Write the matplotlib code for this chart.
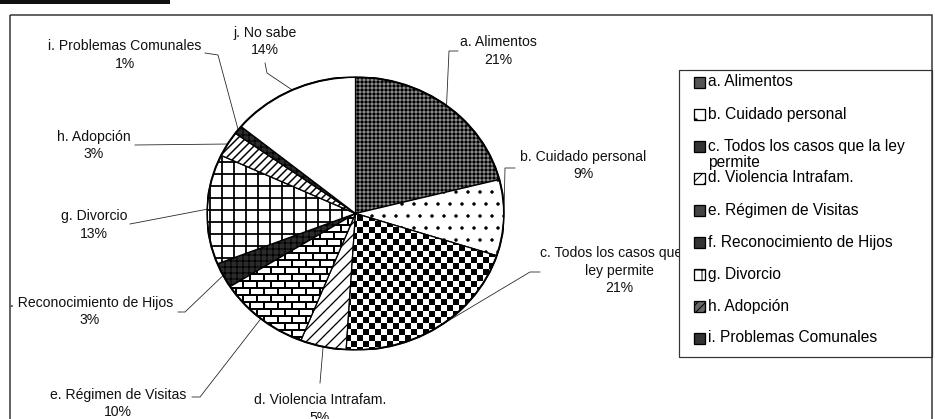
import numpy as np
import matplotlib
matplotlib.use("Agg")
import matplotlib.pyplot as plt
from matplotlib.patches import Rectangle, Ellipse

plt.rcParams["font.family"] = ["Liberation Sans", "DejaVu Sans"]
plt.rcParams["hatch.linewidth"] = 1.0

# Data
categories = [
    "a. Alimentos", "b. Cuidado personal", "c. Todos los casos que la ley permite",
    "d. Violencia Intrafam.", "e. Régimen de Visitas", "f. Reconocimiento de Hijos",
    "g. Divorcio", "h. Adopción", "i. Problemas Comunales", "j. No sabe",
]
values = [21, 9, 21, 5, 10, 3, 13, 3, 1, 14]
legend_count = 9  # the legend in the scan only shows a..i

pie_names = {2: "c. Todos los casos que la\nley permite"}
legend_names = {2: "c. Todos los casos que la ley\npermite"}

# Styles per wedge
faces = ["#8c8c8c", "white", "white", "white", "white", "#2b2b2b", "white", "white", "#2b2b2b", "white"]
hatches = ["+++", ".", None, "//", None, "++", "+", "///", "++", None]
leg_faces = ["#555555", "white", "#333333", "white", "#444444", "#333333", "white", "#666666", "#333333"]

# Layout (pixels, figure 935x419)
W, H = 935, 419
cx, cy, rx, ry = 355.5, 213.5, 148.5, 136.5
label_pos = [(498, 42), (583, 157), (619, 253), (320, 400), (118, 395),
             (90, 303), (94, 216), (94, 137), (125, 46), (265, 33)]
leader_via = [
    [(449, 51), (458, 51)],
    [(505, 168), (515, 168)],
    [(530, 272), (540, 272)],
    [(320, 383)],
    [(200, 397), (192, 397)],
    [(185, 312), (178, 312)],
    [(130, 224)],
    [(135, 145)],
    [(218, 55), (205, 53)],
    [(267, 73), (265, 63)],
]

fig = plt.figure(figsize=(W / 72, H / 72), dpi=72)
ax0 = fig.add_axes([0, 0, 1, 1])
ax0.set_xlim(0, W)
ax0.set_ylim(H, 0)
ax0.axis("off")

axp = fig.add_axes([(cx - rx) / W, (H - cy - ry) / H, 2 * rx / W, 2 * ry / H])
wedges, _ = axp.pie(values, startangle=90, counterclock=False, colors=faces,
                    wedgeprops=dict(edgecolor="black", linewidth=1.3))
axp.set_aspect("auto")
axp.set_xlim(-1, 1)
axp.set_ylim(-1, 1)
for w, h in zip(wedges, hatches):
    if h:
        w.set_hatch(h)
if hasattr(wedges[6], "set_hatch_linewidth"):
    wedges[6].set_hatch_linewidth(1.8)
    wedges[7].set_hatch_linewidth(1.5)
    wedges[3].set_hatch_linewidth(1.3)

# checkerboard for c, bricks for e
nx, ny = int(2 * rx), int(2 * ry)
yy, xx = np.indices((ny, nx))
checker = ((xx // 6 + yy // 6) % 2).astype(float)
im = axp.imshow(checker, extent=(-1, 1, -1, 1), aspect="auto", cmap="gray",
                interpolation="nearest", zorder=1.5)
im.set_clip_path(wedges[2])
row = yy // 7
brick = np.ones((ny, nx))
brick[(yy % 7) < 2] = 0
brick[((xx + (row % 2) * 7) % 14) < 2] = 0
im2 = axp.imshow(brick, extent=(-1, 1, -1, 1), aspect="auto", cmap="gray",
                 interpolation="nearest", zorder=1.5)
im2.set_clip_path(wedges[4])
for w in (wedges[2], wedges[4]):
    w.set_facecolor("none")
    w.set_zorder(2)
# outer ring
axp.add_patch(Ellipse((0, 0), 2, 2, fill=False, lw=2, ec="black", zorder=3))

# labels and leader lines
to_px = axp.transData + ax0.transData.inverted()
for i, (w, v) in enumerate(zip(wedges, values)):
    mid = np.deg2rad((w.theta1 + w.theta2) / 2)
    ex, ey = to_px.transform((np.cos(mid), np.sin(mid)))
    pts = [(ex, ey)] + leader_via[i]
    ax0.plot([p[0] for p in pts], [p[1] for p in pts], color="#222222", lw=0.8, zorder=2)
    lines = pie_names.get(i, categories[i]).split("\n") + [f"{v}%"]
    lx, ly = label_pos[i]
    for k, s in enumerate(lines):
        ax0.text(lx, ly + k * 17.5, s, ha="center", va="center", fontsize=14,
                 color="#111111", zorder=2)

# legend box
ax0.add_patch(Rectangle((679, 70), 253, 287, facecolor="white", edgecolor="#333333",
                        lw=1.2, zorder=5))
for i in range(legend_count):
    y = 82 + i * 32
    ax0.add_patch(Rectangle((694, y - 5.5), 11, 11, facecolor=leg_faces[i],
                            edgecolor="black", lw=1.3,
                            hatch=hatches[i] if faces[i] == "white" and hatches[i] else None,
                            zorder=6))
    name = legend_names.get(i, categories[i])
    for k, s in enumerate(name.split("\n")):
        ax0.text(708, y + k * 17, s, ha="left", va="center", fontsize=15.5,
                 color="black", zorder=6)

# scanned frame
ax0.add_patch(Rectangle((0, 0), 10, H, facecolor="white", edgecolor="none", zorder=7))
ax0.add_patch(Rectangle((10, 15), 922, 420, fill=False, edgecolor="#333333", lw=1.5, zorder=8))
ax0.add_patch(Rectangle((0, 0), 170, 4, facecolor="#111111", edgecolor="none", zorder=8))

fig.savefig("out.png", dpi=72)
